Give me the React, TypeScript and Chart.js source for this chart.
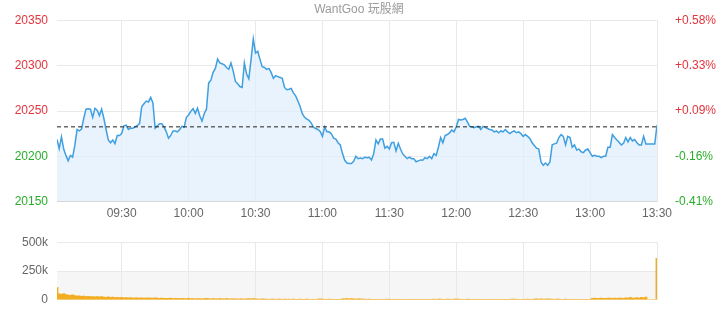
import React, { useEffect, useRef } from "react";
import { Chart, registerables } from "chart.js";

Chart.register(...registerables);

const FONT = '"Liberation Sans", Arial, "Noto Sans CJK TC", sans-serif';

const prevClose = 20232.5;
const titleText = "WantGoo 玩股網";
const tickMinutes = [30, 60, 90, 120, 150, 180, 210, 240, 270];
const timeLabels = ["09:30", "10:00", "10:30", "11:00", "11:30", "12:00", "12:30", "13:00", "13:30"];
const priceTicks = [20150, 20200, 20250, 20300, 20350];
const volumeTicks = [0, 250000, 500000];

// minute index 1 = 09:01 ... 270 = 13:30
const priceValues = [
  20218.5, 20208.5, 20221.5, 20208, 20201, 20195, 20201, 20199, 20212, 20229.6,
  20228, 20230, 20242, 20252, 20252.5, 20252, 20243, 20253, 20251, 20245,
  20252, 20242, 20229.6, 20218, 20215, 20218, 20214, 20223, 20223, 20225,
  20233.7, 20234.5, 20229.6, 20231, 20231, 20232.5, 20234, 20236, 20255, 20258,
  20261, 20260, 20265, 20259, 20231, 20233.7, 20236, 20236, 20232.5, 20227,
  20220, 20223, 20228, 20228, 20227, 20229.6, 20233, 20232, 20243, 20245.6,
  20249.6, 20252.5, 20247.4, 20253, 20244.8, 20239, 20247, 20252, 20281, 20284,
  20292.6, 20297, 20307.4, 20303, 20302.2, 20301, 20298, 20296, 20303, 20294,
  20282.6, 20280, 20277, 20276, 20303, 20290.7, 20285.6, 20306.7, 20329.6, 20314,
  20316, 20307, 20299, 20298, 20296, 20297, 20292.6, 20286, 20289, 20288,
  20287, 20286, 20276, 20273.5, 20274, 20275, 20270, 20266.7, 20261, 20255,
  20247, 20243, 20241, 20239.6, 20236.7, 20232, 20230.7, 20229.6, 20227.4, 20222,
  20232.6, 20227, 20227, 20225, 20220, 20219, 20215, 20212.6, 20203, 20195.6,
  20192.6, 20192, 20192, 20194.4, 20200, 20197.4, 20198, 20197.4, 20199, 20198.5,
  20199, 20196, 20203, 20218, 20213.7, 20219, 20219, 20209, 20211, 20208,
  20215, 20215.5, 20206, 20214.4, 20208, 20202.6, 20200, 20197.4, 20199, 20197.4,
  20197.4, 20194, 20195, 20196, 20195.6, 20198.5, 20197.4, 20200, 20197.4, 20203,
  20201, 20210, 20220.7, 20215, 20223, 20224, 20225.9, 20228.9, 20227, 20232.6,
  20240.7, 20240, 20240.7, 20242, 20238, 20233, 20232.6, 20231.5, 20232.6, 20233,
  20229.6, 20233, 20232, 20230.7, 20229.6, 20229, 20227, 20228, 20226, 20228,
  20227, 20229.6, 20227, 20225, 20227, 20228, 20226, 20227, 20225, 20222,
  20224, 20222, 20219.6, 20215, 20212, 20209, 20208, 20193.7, 20190, 20192.6,
  20190, 20193.7, 20212.6, 20213.7, 20214.4, 20220.7, 20224, 20222, 20212.6, 20222,
  20220.7, 20210, 20212.6, 20207, 20208, 20205, 20204, 20207, 20208, 20204,
  20200, 20201, 20200, 20200, 20198.5, 20200, 20200, 20210, 20210, 20224,
  20220.7, 20218, 20215.5, 20212.6, 20214.4, 20220.7, 20216, 20220.7, 20217, 20218.5,
  20215, 20212.6, 20212.6, 20222, 20213.7, 20213.7, 20213.7, 20213.7, 20213.7, 20234.4,
];

// volume per minute, in thousands
const volumeK = [
  106, 52, 48, 55, 45, 42, 38, 44, 36, 33,
  35, 30, 32, 28, 30, 27, 29, 26, 28, 25,
  27, 24, 22, 25, 21, 23, 20, 22, 19, 21,
  18, 20, 17, 19, 16, 18, 17, 15, 18, 16,
  15, 17, 14, 16, 18, 15, 13, 14, 12, 13,
  12, 14, 11, 12, 13, 10, 12, 11, 10, 12,
  10, 11, 9, 10, 11, 9, 10, 12, 10, 9,
  10, 8, 9, 11, 9, 8, 10, 9, 8, 9,
  8, 7, 9, 8, 7, 8, 10, 9, 11, 8,
  7, 6, 8, 7, 6, 5, 7, 6, 5, 7,
  6, 5, 7, 5, 6, 4, 6, 5, 4, 6,
  5, 4, 6, 5, 3, 5, 4, 6, 8, 6,
  5, 4, 6, 3, 5, 4, 3, 5, 8, 9,
  10, 9, 10, 8, 7, 9, 8, 7, 6, 5,
  6, 4, 5, 3, 4, 5, 3, 4, 6, 5,
  4, 3, 5, 4, 3, 4, 5, 3, 4, 3,
  4, 3, 5, 4, 3, 4, 3, 5, 4, 6,
  5, 7, 6, 5, 4, 6, 5, 4, 6, 7,
  6, 5, 4, 5, 6, 4, 3, 5, 4, 3,
  4, 3, 5, 4, 3, 4, 5, 3, 4, 3,
  4, 5, 3, 4, 6, 7, 5, 4, 3, 5,
  4, 6, 5, 4, 7, 8, 6, 9, 7, 6,
  8, 7, 6, 5, 7, 6, 5, 4, 6, 5,
  4, 5, 3, 4, 5, 4, 3, 4, 5, 4,
  12, 14, 13, 12, 14, 13, 12, 14, 15, 13,
  14, 13, 15, 14, 13, 17, 15, 22, 14, 16,
  20, 15, 22, 18, 24, 0, 0, 0, 0, 360,
];

const minutes = priceValues.map((_, i) => i + 1);

const RED = "#e3343d";
const GREEN = "#2aae2a";
const GRID = "#e9e9e9";

const timeTickBuilder = (scale: any) => {
  scale.ticks = tickMinutes.map((v) => ({ value: v }));
};

export default function App() {
  const priceRef = useRef<HTMLCanvasElement>(null);
  const volRef = useRef<HTMLCanvasElement>(null);

  useEffect(() => {
    Chart.defaults.font.family = FONT;
    const priceChart = new Chart(priceRef.current!, {
      type: "line",
      data: {
        datasets: [
          {
            data: minutes.map((m, i) => ({ x: m, y: priceValues[i] })),
            borderColor: "#3f9fe0",
            borderWidth: 1.5,
            backgroundColor: "rgba(222,238,252,0.7)",
            fill: "start",
            pointRadius: 0,
            tension: 0,
            order: 2,
          },
          {
            data: [
              { x: minutes[0], y: prevClose },
              { x: minutes[minutes.length - 1], y: prevClose },
            ],
            borderColor: "#222",
            borderWidth: 1,
            borderDash: [4, 3],
            pointRadius: 0,
            fill: false,
            order: 1,
          },
        ],
      },
      options: {
        animation: false,
        responsive: false,
        layout: { padding: { left: 0, right: 0, top: 0, bottom: 0 } },
        plugins: {
          legend: { display: false },
          tooltip: { enabled: false },
          title: {
            display: true,
            text: titleText,
            color: "#9a9a9a",
            font: { size: 12, weight: "normal", family: FONT },
            padding: { top: 2, bottom: 4 },
          },
        },
        scales: {
          x: {
            type: "linear",
            min: minutes[0],
            max: minutes[minutes.length - 1],
            afterBuildTicks: timeTickBuilder,
            ticks: {
              autoSkip: false,
              maxRotation: 0,
              padding: 5,
              color: "#666",
              font: { size: 12 },
              callback: (v: any) => {
                const k = tickMinutes.indexOf(Number(v));
                return k >= 0 ? timeLabels[k] : "";
              },
            },
            grid: { color: GRID, drawTicks: false },
            border: { display: false },
          },
          y: {
            min: priceTicks[0],
            max: priceTicks[priceTicks.length - 1],
            afterBuildTicks: (s: any) => {
              s.ticks = priceTicks.map((v) => ({ value: v }));
            },
            afterFit: (s: any) => {
              s.width = 57;
            },
            ticks: {
              padding: 9,
              font: { size: 12 },
              color: (ctx: any) => (ctx.tick && ctx.tick.value > prevClose ? RED : GREEN),
              callback: (v: any) => String(v),
            },
            grid: {
              drawTicks: false,
              color: (ctx: any) => (ctx.tick && ctx.tick.value === priceTicks[0] ? "#d6d6d6" : GRID),
            },
            border: { display: false },
          },
          y2: {
            position: "right",
            min: priceTicks[0],
            max: priceTicks[priceTicks.length - 1],
            afterBuildTicks: (s: any) => {
              s.ticks = priceTicks.map((v) => ({ value: v }));
            },
            afterFit: (s: any) => {
              s.width = 61;
            },
            ticks: {
              padding: 10,
              font: { size: 12 },
              color: (ctx: any) => (ctx.tick && ctx.tick.value > prevClose ? RED : GREEN),
              callback: (v: any) => {
                const p = ((Number(v) - prevClose) / prevClose) * 100;
                return (p > 0 ? "+" : "") + p.toFixed(2) + "%";
              },
            },
            grid: { display: false },
            border: { display: false },
          },
        },
      } as any,
    });

    const bandPlugin = {
      id: "band",
      beforeDraw(chart: any) {
        const { ctx, chartArea, scales } = chart;
        const y1 = scales.y.getPixelForValue(volumeTicks[1]);
        const y0 = scales.y.getPixelForValue(volumeTicks[0]);
        ctx.save();
        ctx.fillStyle = "#f6f6f6";
        ctx.fillRect(chartArea.left, y1, chartArea.right - chartArea.left, y0 - y1);
        ctx.restore();
      },
    };

    const volChart = new Chart(volRef.current!, {
      type: "bar",
      data: {
        datasets: [
          {
            data: minutes.map((m, i) => ({ x: m, y: volumeK[i] * 1000 })),
            backgroundColor: "#f2ad22",
            barPercentage: 1,
            categoryPercentage: 1,
          },
        ],
      },
      options: {
        animation: false,
        responsive: false,
        layout: { padding: { left: 0, right: 61, top: 11, bottom: 2 } },
        plugins: { legend: { display: false }, tooltip: { enabled: false } },
        scales: {
          x: {
            type: "linear",
            min: minutes[0],
            max: minutes[minutes.length - 1],
            offset: false,
            afterBuildTicks: timeTickBuilder,
            ticks: { display: false },
            grid: { color: GRID, drawTicks: false, offset: false },
            border: { display: false },
          },
          y: {
            min: volumeTicks[0],
            max: volumeTicks[volumeTicks.length - 1],
            afterBuildTicks: (s: any) => {
              s.ticks = volumeTicks.map((v) => ({ value: v }));
            },
            afterFit: (s: any) => {
              s.width = 57;
            },
            ticks: {
              padding: 9,
              color: "#666",
              font: { size: 12 },
              callback: (v: any) => (Number(v) === 0 ? "0" : Number(v) / 1000 + "k"),
            },
            grid: {
              drawTicks: false,
              color: (ctx: any) => (ctx.tick && ctx.tick.value === 0 ? "rgba(0,0,0,0)" : GRID),
            },
            border: { display: false },
          },
        },
      } as any,
      plugins: [bandPlugin],
    });

    return () => {
      priceChart.destroy();
      volChart.destroy();
    };
  }, []);

  return (
    <div style={{ position: "fixed", left: 0, top: 0, width: 718, height: 316, background: "#fff", overflow: "hidden" }}>
      <canvas ref={priceRef} width={718} height={226} style={{ position: "absolute", left: 0, top: 0 }} />
      <canvas ref={volRef} width={718} height={90} style={{ position: "absolute", left: 0, top: 226 }} />
    </div>
  );
}
